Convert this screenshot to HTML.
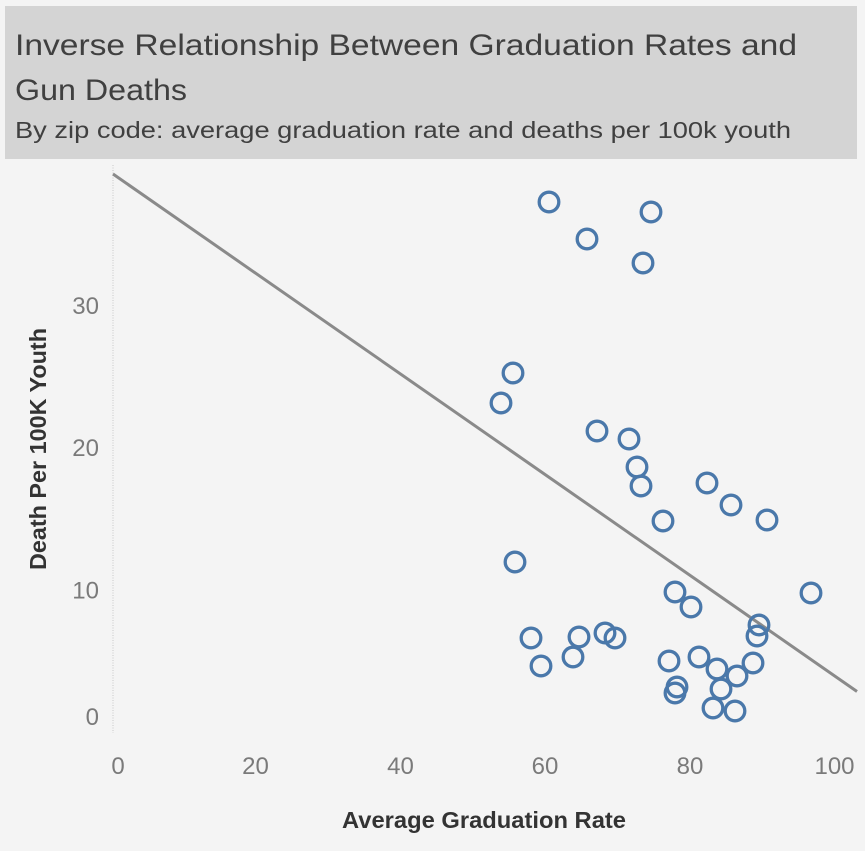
<!DOCTYPE html>
<html>
<head>
<meta charset="utf-8">
<style>
  html, body { margin:0; padding:0; background:#f4f4f4; }
  svg { display:block; }
  text { font-family: "Liberation Sans", "DejaVu Sans", sans-serif; }
</style>
</head>
<body>
<svg width="865" height="851" viewBox="0 0 865 851" xmlns="http://www.w3.org/2000/svg">
  <rect x="0" y="0" width="865" height="851" fill="#f4f4f4"/>
  <!-- Title box -->
  <rect x="5" y="6" width="852" height="153" fill="#d4d4d4"/>
  <text x="15" y="55" font-size="30" fill="#404040" textLength="782" lengthAdjust="spacingAndGlyphs">Inverse Relationship Between Graduation Rates and</text>
  <text x="15" y="100" font-size="30" fill="#404040" textLength="172" lengthAdjust="spacingAndGlyphs">Gun Deaths</text>
  <text x="15" y="138" font-size="23" fill="#404040" textLength="776" lengthAdjust="spacingAndGlyphs">By zip code: average graduation rate and deaths per 100k youth</text>

  <!-- Y axis dotted line -->
  <line x1="113" y1="165" x2="113" y2="733" stroke="#c8c8c8" stroke-width="1" stroke-dasharray="1,1.5"/>

  <!-- Y tick labels -->
  <g font-size="24" fill="#7a7a7a" text-anchor="end">
    <text x="99" y="314">30</text>
    <text x="99" y="456">20</text>
    <text x="99" y="598.5">10</text>
    <text x="99" y="725">0</text>
  </g>
  <!-- X tick labels -->
  <g font-size="24" fill="#7a7a7a" text-anchor="middle">
    <text x="118" y="774">0</text>
    <text x="255.5" y="774">20</text>
    <text x="400.5" y="774">40</text>
    <text x="545" y="774">60</text>
    <text x="690" y="774">80</text>
    <text x="834.5" y="774">100</text>
  </g>

  <!-- Axis titles -->
  <text x="484" y="828" font-size="23" font-weight="bold" fill="#333" text-anchor="middle" textLength="284" lengthAdjust="spacingAndGlyphs">Average Graduation Rate</text>
  <text transform="translate(46,449) rotate(-90)" x="0" y="0" font-size="23" font-weight="bold" fill="#333" text-anchor="middle" textLength="242" lengthAdjust="spacingAndGlyphs">Death Per 100K Youth</text>

  <!-- Trend line -->
  <line x1="113" y1="174" x2="857" y2="691.5" stroke="#8a8a8a" stroke-width="3"/>

  <!-- Points -->
  <g fill="none" stroke="#4a78aa" stroke-width="3.3">
    <circle cx="549" cy="202" r="9.8"/>
    <circle cx="587" cy="239" r="9.8"/>
    <circle cx="651" cy="212" r="9.8"/>
    <circle cx="643" cy="263" r="9.8"/>
    <circle cx="513" cy="373" r="9.8"/>
    <circle cx="501" cy="403" r="9.8"/>
    <circle cx="597" cy="431" r="9.8"/>
    <circle cx="629" cy="439" r="9.8"/>
    <circle cx="637" cy="467" r="9.8"/>
    <circle cx="641" cy="486" r="9.8"/>
    <circle cx="663" cy="521" r="9.8"/>
    <circle cx="707" cy="483" r="9.8"/>
    <circle cx="731" cy="505" r="9.8"/>
    <circle cx="767" cy="520" r="9.8"/>
    <circle cx="515" cy="562" r="9.8"/>
    <circle cx="675" cy="592" r="9.8"/>
    <circle cx="691" cy="607" r="9.8"/>
    <circle cx="811" cy="593" r="9.8"/>
    <circle cx="759" cy="625" r="9.8"/>
    <circle cx="757" cy="636" r="9.8"/>
    <circle cx="531" cy="638" r="9.8"/>
    <circle cx="541" cy="666" r="9.8"/>
    <circle cx="579" cy="637" r="9.8"/>
    <circle cx="573" cy="657" r="9.8"/>
    <circle cx="605" cy="633" r="9.8"/>
    <circle cx="615" cy="638" r="9.8"/>
    <circle cx="669" cy="661" r="9.8"/>
    <circle cx="677" cy="687" r="9.8"/>
    <circle cx="675" cy="693" r="9.8"/>
    <circle cx="699" cy="657" r="9.8"/>
    <circle cx="717" cy="669" r="9.8"/>
    <circle cx="737" cy="676" r="9.8"/>
    <circle cx="753" cy="663" r="9.8"/>
    <circle cx="721" cy="689" r="9.8"/>
    <circle cx="713" cy="708" r="9.8"/>
    <circle cx="735" cy="711" r="9.8"/>
  </g>
</svg>
</body>
</html>
